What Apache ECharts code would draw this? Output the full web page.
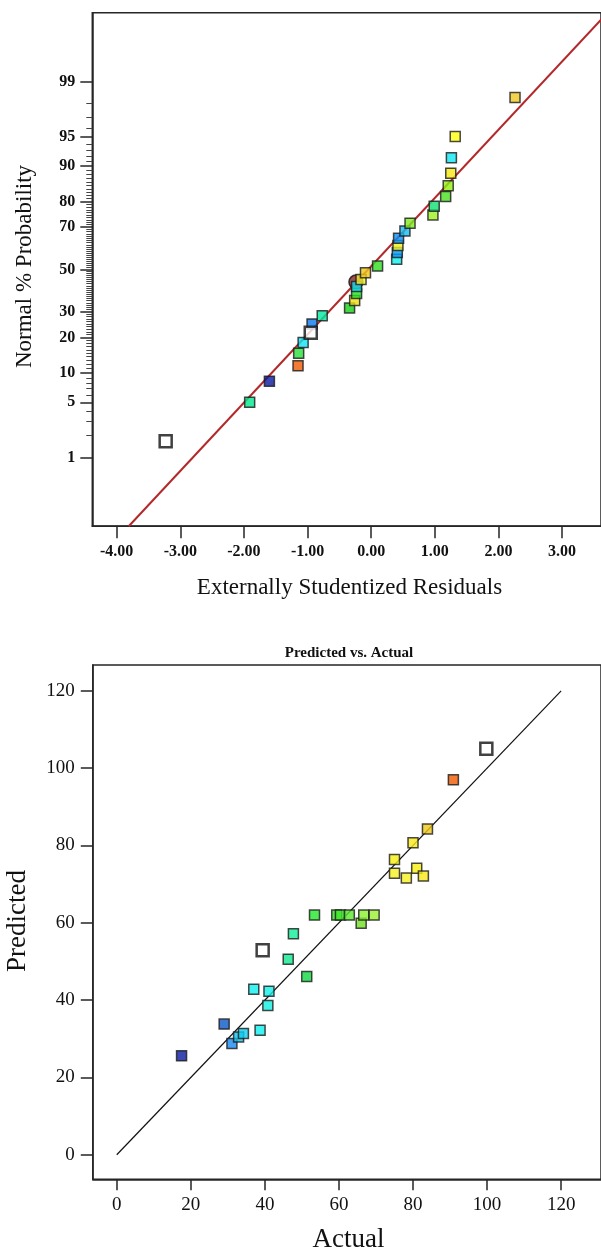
<!DOCTYPE html>
<html>
<head>
<meta charset="utf-8">
<title>Normal plot of residuals / Predicted vs. Actual</title>
<script src="https://cdn.jsdelivr.net/npm/echarts@6/dist/echarts.min.js"></script>
<style>
  html, body { margin: 0; padding: 0; background: #fff; }
  #charts { width: 601px; height: 1253px; }
</style>
</head>
<body>
<div id="charts"></div>
<script>
// ---- normal plot of residuals ----
var residuals = [-1.91, -1.60, -1.15, -1.14, -1.07, -0.93, -0.77, -0.34, -0.26, -0.23, -0.23, -0.16, -0.09, 0.10,
  0.40, 0.41, 0.42, 0.43, 0.53, 0.61, 0.97, 0.99, 1.17, 1.21, 1.25, 1.26, 1.32, 2.26];
var residualProb = [5.00, 8.33, 11.67, 15.00, 18.33, 25.00, 28.33, 31.67, 35.00, 38.33, 41.67, 45.00, 48.33, 51.67,
  55.00, 58.33, 61.67, 65.00, 68.33, 71.67, 75.00, 78.33, 81.67, 85.00, 88.33, 91.67, 95.00, 98.33];
var residualColors = ['#00e88c', '#0a1aa0', '#f05a00', '#28e03c', '#10e4f4', '#0a78f0', '#00e8a0', '#18d018',
  '#f0e010', '#28e028', '#10e0f0', '#f4f030', '#f0c818', '#30e020', '#10f0f0', '#0898f8', '#f0f020', '#0890f8',
  '#18bcf0', '#80ec20', '#a0f020', '#10e070', '#48e020', '#90f010', '#f8e810', '#10e8f4', '#ffff10', '#f0c820'];
// flagged runs (hollow squares)
var flaggedResiduals = [-3.23, -0.95];
var flaggedProb = [1.67, 21.67];
// highlighted run (circle)
var highlightResidual = [-0.24];
var highlightProb = [43.8];
// fitted normal line
var normalLineMean = -0.048;
var normalLineSd = 1.184;
var probTickLabels = [1, 5, 10, 20, 30, 50, 70, 80, 90, 95, 99];
var residualTicks = [-4, -3, -2, -1, 0, 1, 2, 3];

// ---- predicted vs actual ----
var actual = [17.5, 29.0, 31.1, 32.9, 34.2, 38.7, 40.8, 37.0, 41.1, 46.3, 51.3, 47.7, 53.4, 59.4, 60.4, 62.8,
  66.0, 66.7, 69.5, 75.0, 75.0, 78.2, 81.0, 82.8, 80.0, 83.9, 90.9];
var predicted = [25.6, 33.8, 28.8, 30.5, 31.4, 32.2, 38.6, 42.8, 42.3, 50.6, 46.1, 57.2, 62.0, 62.0, 62.0, 62.0,
  59.9, 62.0, 62.0, 76.4, 72.8, 71.6, 74.1, 72.1, 80.7, 84.3, 97.0];
var actualColors = ['#0a1aa0', '#0a58c8', '#1888f0', '#10c0f0', '#10ccf0', '#10f0f0', '#10f0e0', '#10f0f0',
  '#10f0e8', '#10e890', '#10d840', '#10f098', '#20e828', '#30e020', '#40e828', '#58e828', '#70e020', '#88f030',
  '#98f030', '#f8f010', '#f8f020', '#f8f020', '#f8f010', '#f8e818', '#f8e818', '#f0c818', '#f05a00'];
var flaggedActual = [39.4, 99.8];
var flaggedPredicted = [52.9, 105.0];
var diagonal = [0, 120];
var actualTicks = [0, 20, 40, 60, 80, 100, 120];

// inverse normal cdf (Acklam)
function probit(p) {
  var a = [-3.969683028665376e+01, 2.209460984245205e+02, -2.759285104469687e+02, 1.383577518672690e+02, -3.066479806614716e+01, 2.506628277459239e+00];
  var b = [-5.447609879822406e+01, 1.615858368580409e+02, -1.556989798598866e+02, 6.680131188771972e+01, -1.328068155288572e+01];
  var c = [-7.784894002430293e-03, -3.223964580411365e-01, -2.400758277161838e+00, -2.549732539343734e+00, 4.374664141464968e+00, 2.938163982698783e+00];
  var d = [7.784695709041462e-03, 3.224671290700398e-01, 2.445134137142996e+00, 3.754408661907416e+00];
  var pl = 0.02425, q, r;
  if (p < pl) {
    q = Math.sqrt(-2 * Math.log(p));
    return (((((c[0] * q + c[1]) * q + c[2]) * q + c[3]) * q + c[4]) * q + c[5]) / ((((d[0] * q + d[1]) * q + d[2]) * q + d[3]) * q + 1);
  }
  if (p > 1 - pl) {
    q = Math.sqrt(-2 * Math.log(1 - p));
    return -(((((c[0] * q + c[1]) * q + c[2]) * q + c[3]) * q + c[4]) * q + c[5]) / ((((d[0] * q + d[1]) * q + d[2]) * q + d[3]) * q + 1);
  }
  q = p - 0.5;
  r = q * q;
  return (((((a[0] * r + a[1]) * r + a[2]) * r + a[3]) * r + a[4]) * r + a[5]) * q / (((((b[0] * r + b[1]) * r + b[2]) * r + b[3]) * r + b[4]) * r + 1);
}

function zip(xs, ps, toZ) {
  return xs.map(function (x, i) { return [x, toZ ? probit(ps[i] / 100) : ps[i]]; });
}

var zMin = -3.178, zMax = 3.178;
var probMajor = probTickLabels.map(function (p) { return probit(p / 100); });
var probMinor = [];
for (var p = 2; p <= 98; p++) {
  if (probTickLabels.indexOf(p) < 0) probMinor.push(probit(p / 100));
}
var normalLine = [[normalLineMean + normalLineSd * zMin, zMin], [normalLineMean + normalLineSd * 3.3, 3.3]];

var serif = '"Liberation Serif", "DejaVu Serif", serif';
var axisCol = '#262626';

var chart = echarts.init(document.getElementById('charts'));
chart.setOption({
  animation: false,
  backgroundColor: '#fff',
  grid: [
    { left: 92.3, top: 12.7, width: 530, height: 513.5, show: true, borderColor: axisCol, borderWidth: 1.5 },
    { left: 92.8, top: 665.1, width: 530, height: 514.2, show: true, borderColor: axisCol, borderWidth: 1.5 }
  ],
  xAxis: [
    {
      gridIndex: 0, type: 'value', position: 'bottom', min: -4.383, max: -4.383 + 530 / 66.3,
      axisLine: { show: true, onZero: false, lineStyle: { color: axisCol, width: 1.5 } },
      axisTick: { show: true, customValues: residualTicks, length: 12, lineStyle: { color: axisCol, width: 1.5 } },
      axisLabel: {
        customValues: residualTicks, margin: 18, color: '#111',
        fontFamily: serif, fontSize: 16, fontWeight: 'bold',
        formatter: function (v) { return v.toFixed(2); }
      },
      splitLine: { show: false }
    },
    {
      gridIndex: 1, type: 'value', position: 'bottom', min: -6.47, max: -6.47 + 530 / 3.862,
      axisLine: { show: true, onZero: false, lineStyle: { color: axisCol, width: 1.5 } },
      axisTick: { show: true, customValues: actualTicks, length: 11, lineStyle: { color: axisCol, width: 1.5 } },
      axisLabel: { customValues: actualTicks, margin: 16, color: '#111', fontFamily: serif, fontSize: 19 },
      splitLine: { show: false }
    }
  ],
  yAxis: [
    {
      gridIndex: 0, type: 'value', position: 'left', min: zMin, max: zMax,
      axisLine: { show: true, onZero: false, lineStyle: { color: axisCol, width: 1.5 } },
      axisTick: { show: true, customValues: probMajor, length: 12, lineStyle: { color: axisCol, width: 1.5 } },
      axisLabel: {
        customValues: probMajor, margin: 17, color: '#111',
        fontFamily: serif, fontSize: 16, fontWeight: 'bold',
        formatter: function (v) {
          for (var i = 0; i < probMajor.length; i++) {
            if (Math.abs(probMajor[i] - v) < 1e-6) return String(probTickLabels[i]);
          }
          return '';
        }
      },
      splitLine: { show: false }
    },
    {
      // minor ticks of the probability scale
      gridIndex: 0, type: 'value', position: 'left', min: zMin, max: zMax,
      axisLine: { show: false, onZero: false },
      axisTick: { show: true, customValues: probMinor, length: 6, lineStyle: { color: '#444', width: 1 } },
      axisLabel: { show: false },
      splitLine: { show: false }
    },
    {
      gridIndex: 1, type: 'value', position: 'left', min: -6.34, max: -6.34 + 514.2 / 3.866,
      axisLine: { show: true, onZero: false, lineStyle: { color: axisCol, width: 1.5 } },
      axisTick: { show: true, customValues: actualTicks, length: 12, lineStyle: { color: axisCol, width: 1.5 } },
      axisLabel: { customValues: actualTicks, margin: 18, color: '#111', fontFamily: serif, fontSize: 19 },
      splitLine: { show: false }
    }
  ],
  graphic: [
    { type: 'text', x: 25, y: 266.5, rotation: Math.PI / 2,
      style: { text: 'Normal % Probability', font: '23px ' + serif, fill: '#111', textAlign: 'center', textVerticalAlign: 'middle' } },
    { type: 'text', x: 349.5, y: 588,
      style: { text: 'Externally Studentized Residuals', font: '23px ' + serif, fill: '#111', textAlign: 'center', textVerticalAlign: 'middle' } },
    { type: 'text', x: 349, y: 653,
      style: { text: 'Predicted vs. Actual', font: 'bold 15px ' + serif, fill: '#111', textAlign: 'center', textVerticalAlign: 'middle' } },
    { type: 'text', x: 18, y: 921, rotation: Math.PI / 2,
      style: { text: 'Predicted', font: '27px ' + serif, fill: '#111', textAlign: 'center', textVerticalAlign: 'middle' } },
    { type: 'text', x: 348.5, y: 1240,
      style: { text: 'Actual', font: '27px ' + serif, fill: '#111', textAlign: 'center', textVerticalAlign: 'middle' } }
  ],
  series: [
    {
      name: 'normal line', type: 'line', xAxisIndex: 0, yAxisIndex: 0, data: normalLine,
      symbol: 'none', silent: true, lineStyle: { color: '#b3282b', width: 2 }, z: 2
    },
    {
      name: 'highlight', type: 'scatter', xAxisIndex: 0, yAxisIndex: 0,
      data: zip(highlightResidual, highlightProb, true),
      symbol: 'circle', symbolSize: 14, itemStyle: { color: '#8e2222', borderColor: '#111', borderWidth: 1.5 }, z: 3
    },
    {
      name: 'residuals', type: 'scatter', xAxisIndex: 0, yAxisIndex: 0,
      data: zip(residuals, residualProb, true),
      symbol: 'rect', symbolSize: 10,
      itemStyle: {
        color: function (params) { return residualColors[params.dataIndex]; },
        borderColor: '#1a1a1a', borderWidth: 1.5
      },
      z: 4
    },
    {
      name: 'flagged residuals', type: 'scatter', xAxisIndex: 0, yAxisIndex: 0,
      data: zip(flaggedResiduals, flaggedProb, true),
      symbol: 'rect', symbolSize: 12, itemStyle: { color: '#fff', borderColor: '#111', borderWidth: 2.5 }, z: 4
    },
    {
      name: 'diagonal', type: 'line', xAxisIndex: 1, yAxisIndex: 2,
      data: zip(diagonal, diagonal, false),
      symbol: 'none', silent: true, lineStyle: { color: '#111', width: 1.2 }, z: 2
    },
    {
      name: 'runs', type: 'scatter', xAxisIndex: 1, yAxisIndex: 2,
      data: zip(actual, predicted, false),
      symbol: 'rect', symbolSize: 10,
      itemStyle: {
        color: function (params) { return actualColors[params.dataIndex]; },
        borderColor: '#1a1a1a', borderWidth: 1.5
      },
      z: 4
    },
    {
      name: 'flagged runs', type: 'scatter', xAxisIndex: 1, yAxisIndex: 2,
      data: zip(flaggedActual, flaggedPredicted, false),
      symbol: 'rect', symbolSize: 12, itemStyle: { color: '#fff', borderColor: '#111', borderWidth: 2.5 }, z: 4
    }
  ]
});
</script>
</body>
</html>
